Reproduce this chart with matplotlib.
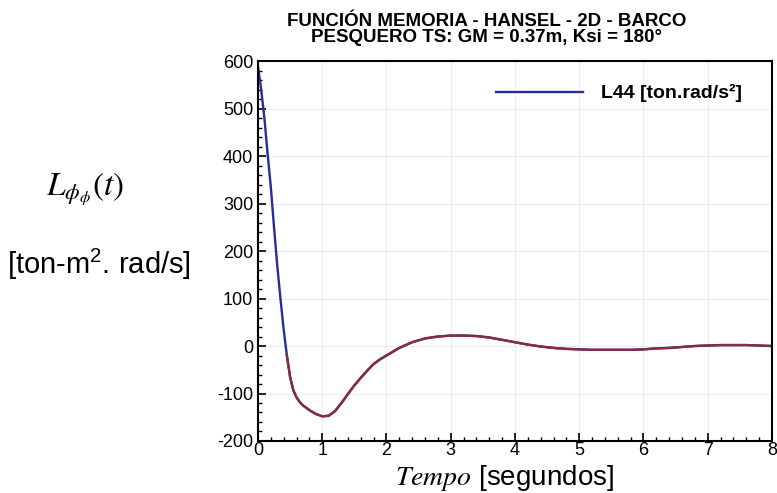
import numpy as np
import matplotlib.pyplot as plt
from matplotlib.ticker import MultipleLocator

plt.rcParams['font.family'] = ['Liberation Sans', 'DejaVu Sans']
plt.rcParams['mathtext.fontset'] = 'stix'
plt.rcParams['mathtext.rm'] = 'Liberation Sans'
plt.rcParams['axes.unicode_minus'] = False

# ------- data -------
tiempo = [0.0, 0.05, 0.1, 0.15, 0.2, 0.25, 0.3, 0.35, 0.4, 0.45, 0.5, 0.55, 0.6, 0.65, 0.7,
          0.8, 0.9, 1.0, 1.1, 1.2, 1.3, 1.4, 1.5, 1.6, 1.7, 1.8, 1.9, 2.0, 2.2, 2.4,
          2.6, 2.8, 3.0, 3.2, 3.4, 3.6, 3.8, 4.0, 4.2, 4.4, 4.6, 4.8, 5.0, 5.2, 5.4,
          5.6, 5.8, 6.0, 6.2, 6.4, 6.6, 6.8, 7.0, 7.2, 7.4, 7.6, 7.8, 8.0]
l44 = [590, 540, 480, 405, 335, 250, 170, 100, 35, -20, -65, -93, -108, -118, -125,
       -135, -143, -148, -147, -137, -120, -101, -83, -67, -52, -38, -28, -20, -4, 8,
       16, 20, 22, 22, 21, 18, 13, 8, 3, -1, -4, -6, -7, -8, -8,
       -8, -8, -7, -5, -4, -2, 0, 1, 2, 2, 2, 1, 0]
x_ticks = [0, 1, 2, 3, 4, 5, 6, 7, 8]
y_ticks = [-200, -100, 0, 100, 200, 300, 400, 500, 600]

fig = plt.figure(figsize=(7.77, 4.93), dpi=100)
ax = fig.add_axes([0.332, 0.1055, 0.6615, 0.7705])

t = np.array(tiempo)
v = np.array(l44)
ax.plot(t, v, color='#2a2a9a', lw=1.7, label='L44 [ton.rad/s²]')
m = t >= 0.45
ax.plot(t[m], v[m], color='#8a2a3a', lw=1.7)

ax.set_xlim(0, 8)
ax.set_ylim(-200, 600)
ax.set_xticks(x_ticks)
ax.set_yticks(y_ticks)
ax.xaxis.set_minor_locator(MultipleLocator(0.2))
ax.yaxis.set_minor_locator(MultipleLocator(20))
ax.tick_params(which='both', direction='in', top=False, right=False, labelsize=13)
ax.tick_params(axis='x', pad=1)
ax.tick_params(which='major', length=6, width=1.2)
ax.tick_params(which='minor', length=3, width=1)
ax.grid(True, color='#d8e4ec', lw=0.8, alpha=0.6)
for s in ax.spines.values():
    s.set_linewidth(1.5)

ax.legend(loc='upper right', frameon=False, handlelength=4.5, handletextpad=0.9,
          prop={'weight': 'bold', 'size': 14},
          bbox_to_anchor=(0.975, 0.985))

fig.text(0.626, 0.94, 'FUNCIÓN MEMORIA - HANSEL - 2D - BARCO\nPESQUERO TS: GM = 0.37m, Ksi = 180°',
         ha='center', va='center', fontsize=13.5, fontweight='bold', linespacing=0.86)

fig.text(0.109, 0.615, r'$L_{\phi_\phi}(t)$', ha='center', va='center', fontsize=24)
fig.text(0.127, 0.464, r'[ton-m$^\mathrm{2}$. rad/s]', ha='center', va='center', fontsize=21,
         math_fontfamily='custom')

fig.text(0.65, 0.03, r'$Tempo$ [segundos]', ha='center', va='center', fontsize=20)

fig.savefig('out.png', dpi=100)
